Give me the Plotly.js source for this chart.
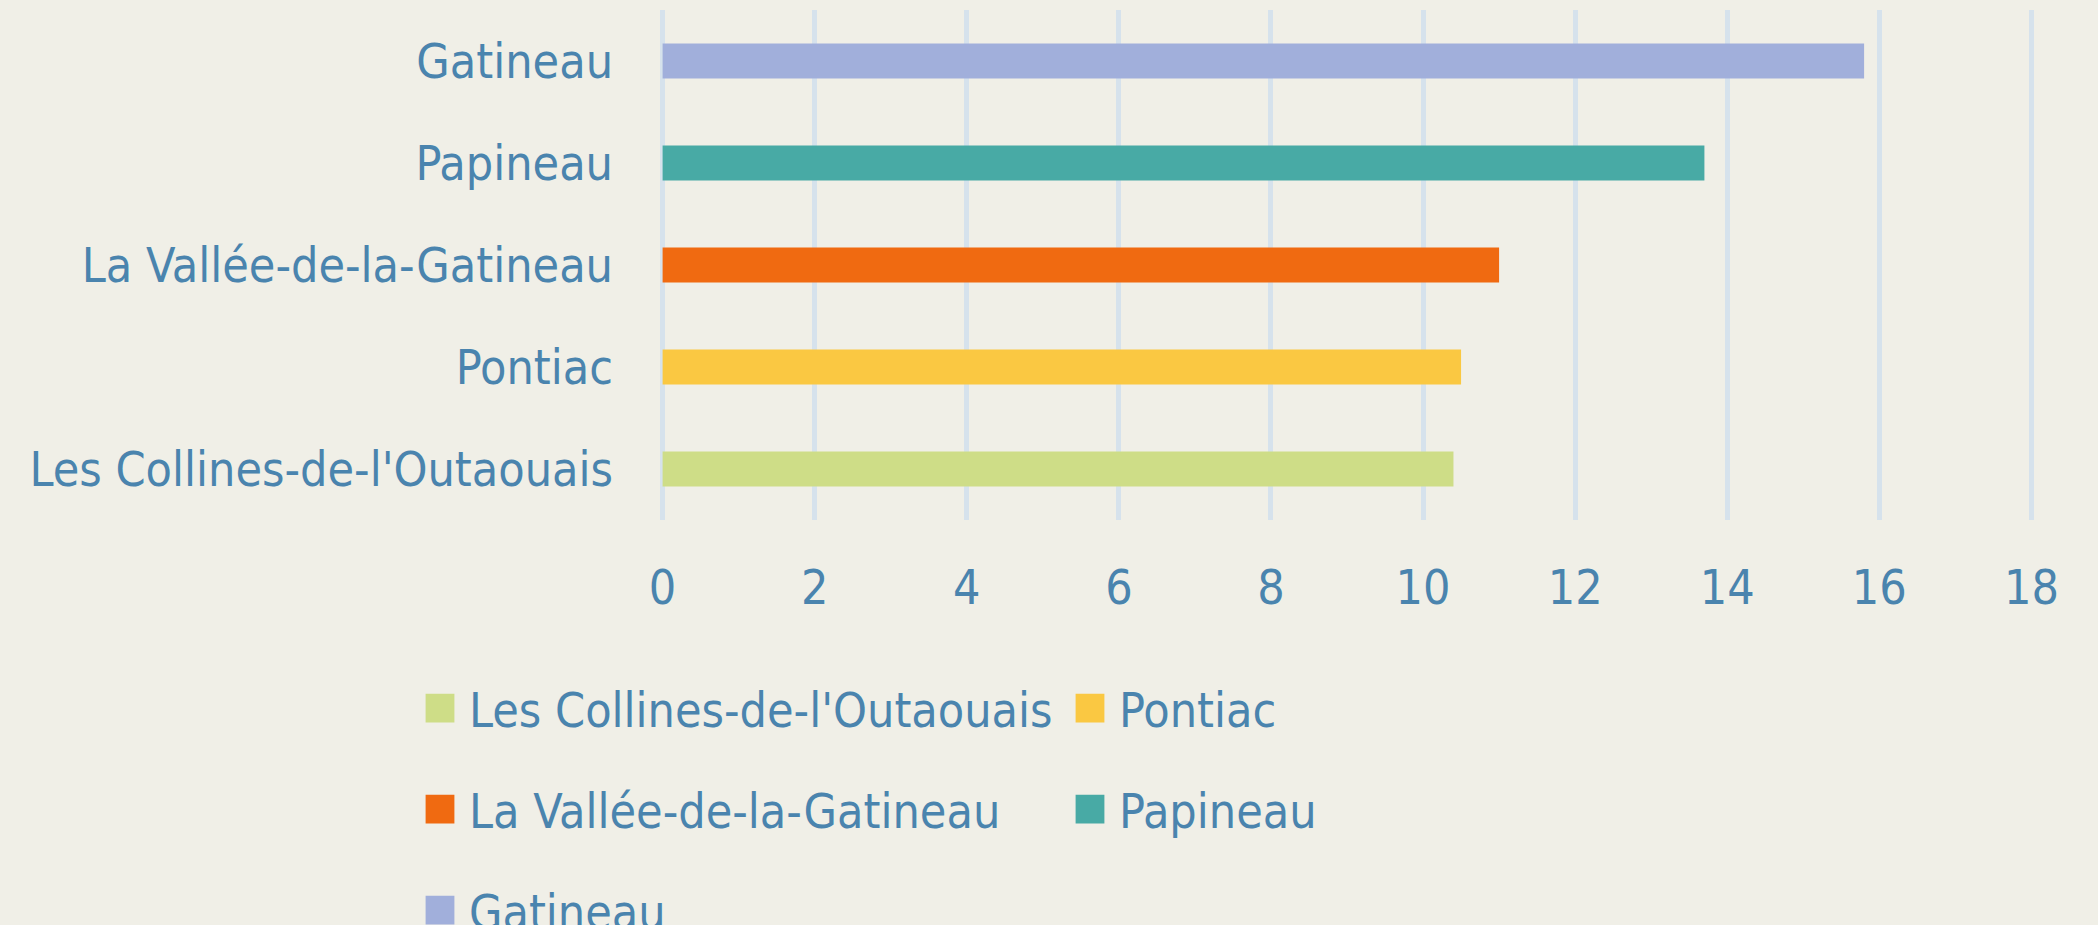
<!DOCTYPE html>
<html>
<head>
<meta charset="utf-8">
<script src="https://cdn.plot.ly/plotly-3.0.1.min.js"></script>
<style>
  html, body { margin: 0; padding: 0; background: #F0EFE7; }
  #chart { width: 2098px; height: 925px; }
  svg text { font-stretch: condensed; }
</style>
</head>
<body>
<div id="chart"></div>
<script>
// ---- data ----
const categories = ["Les Collines-de-l'Outaouais", "Pontiac", "La Vallée-de-la-Gatineau", "Papineau", "Gatineau"];
const values = [10.4, 10.5, 11.0, 13.7, 15.8];
const colors = ["#CEDD87", "#FAC842", "#F06A11", "#48AAA5", "#A1AFDB"];
const legendIds = ["legend", "legend", "legend2", "legend2", "legend3"];
const xTicks = [0, 2, 4, 6, 8, 10, 12, 14, 16, 18];

const FONT = '"DejaVu Sans Condensed", "Liberation Sans Narrow", "DejaVu Sans", sans-serif';
const TXT = '#4A84AE';

const traces = categories.map((c, i) => ({
  type: 'bar',
  orientation: 'h',
  name: c,
  x: [values[i]],
  y: [c],
  marker: { color: colors[i], line: { width: 0 } },
  legend: legendIds[i],
  hoverinfo: 'x+y'
}));

const legendBase = {
  orientation: 'h',
  xref: 'container', yref: 'container',
  x: 411 / 2098, xanchor: 'left',
  yanchor: 'middle',
  bgcolor: 'rgba(0,0,0,0)',
  borderwidth: 0,
  itemwidth: 48,
  entrywidth: 587,
  entrywidthmode: 'pixels',
  font: { family: FONT, size: 48, color: TXT },
  traceorder: 'normal'
};

const layout = {
  width: 2098, height: 925,
  paper_bgcolor: '#F0EFE7',
  plot_bgcolor: '#F0EFE7',
  margin: { l: 655, r: 59, t: 10, b: 405, autoexpand: false },
  barmode: 'overlay',
  bargap: 0.655,
  font: { family: FONT, size: 48, color: TXT },
  showlegend: true,
  xaxis: {
    range: [-0.1, 18.1],
    tickvals: xTicks,
    ticktext: xTicks.map(String),
    showgrid: true,
    gridcolor: '#D6E2EC',
    gridwidth: 5,
    zeroline: false,
    showline: false,
    ticks: '',
    ticklabelstandoff: 35,
    tickfont: { family: FONT, size: 48, color: TXT },
    fixedrange: true
  },
  yaxis: {
    type: 'category',
    categoryorder: 'array',
    categoryarray: categories,
    showgrid: false,
    zeroline: false,
    showline: false,
    ticks: '',
    ticklabelstandoff: 41,
    tickfont: { family: FONT, size: 48, color: TXT },
    fixedrange: true
  },
  legend: Object.assign({}, legendBase, { y: 1 - 708.5 / 925 }),
  legend2: Object.assign({}, legendBase, { y: 1 - 809.5 / 925 }),
  legend3: Object.assign({}, legendBase, { y: 1 - 910.5 / 925 })
};

Plotly.newPlot('chart', traces, layout, { displayModeBar: false, staticPlot: true }).then(function () {
  document.querySelectorAll('.legendpoints path').forEach(function (p) {
    const t = p.getAttribute('transform') || '';
    p.setAttribute('transform', t + ' scale(2.4)');
  });
});
</script>
</body>
</html>
